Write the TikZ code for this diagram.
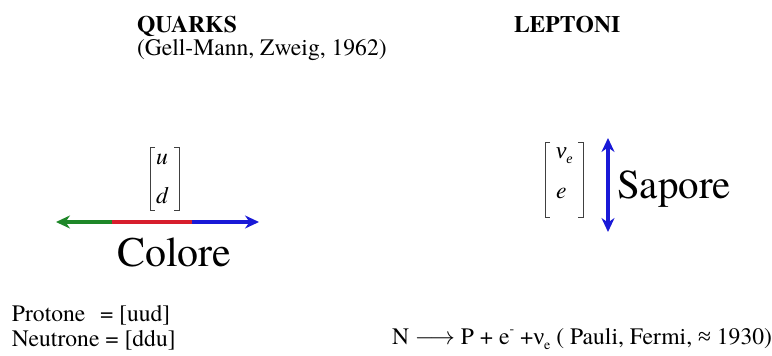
\documentclass[tikz,border=0pt]{standalone}
\usepackage{fontspec}
\IfFontExistsTF{texgyretermes-regular.otf}
  {\setmainfont{texgyretermes}[Extension=.otf,UprightFont=*-regular,BoldFont=*-bold,ItalicFont=*-italic,BoldItalicFont=*-bolditalic]}
  {\setmainfont{Liberation Serif}}
\newfontfamily\greekfont{Liberation Serif}
\usetikzlibrary{arrows.meta}
\definecolor{cgreen}{RGB}{30,135,40}
\definecolor{cred}{RGB}{215,30,45}
\definecolor{cblue}{RGB}{25,25,215}
\newcommand{\subtxt}[1]{\raisebox{-0.25em}{\fontsize{14}{14}\selectfont #1}}
\newcommand{\suptxt}[1]{\raisebox{0.45em}{\fontsize{14}{14}\selectfont #1}}
\begin{document}
\begin{tikzpicture}[x=1pt,y=-1pt,
  txt/.style={anchor=base west,inner sep=0pt,outer sep=0pt,font=\fontsize{23.6}{26}\selectfont},
  big/.style={anchor=base west,inner sep=0pt,outer sep=0pt,font=\fontsize{42}{46}\selectfont},
  brk/.style={draw=black!75,line width=1pt},
  thick arrow/.style={line width=4pt},
  tip/.style={-{Stealth[length=14pt,width=13pt]}}]
\path[use as bounding box,fill=white] (0,0) rectangle (772,356);
% titles
\node[txt,font=\fontsize{23.6}{26}\selectfont\bfseries] (quarks) at (137,32) {QUARKS};
\node[txt] (gell) at (137,56) {(Gell-Mann, Zweig, 1962)};
\node[txt,font=\fontsize{23.6}{26}\selectfont\bfseries] (leptoni) at (514,32) {LEPTONI};
% quark doublet
\node[txt,font=\fontsize{23.6}{26}\selectfont\itshape] (u) at (156,164) {u};
\node[txt,font=\fontsize{23.6}{26}\selectfont\itshape] (d) at (156,203) {d};
\draw[brk] (155,147) -- (150,147) -- (150,210) -- (155,210);
\draw[brk] (174,147) -- (179,147) -- (179,210) -- (174,210);
% colour arrow
\coordinate (cl) at (56,222);
\coordinate (cg) at (112,222);
\coordinate (cr) at (192,222);
\coordinate (cb) at (259,222);
\draw[thick arrow,cred] (cg) -- (cr);
\draw[thick arrow,cgreen,tip] (cg) -- (cl);
\draw[thick arrow,cblue,tip] (cr) -- (cb);
\node[big] (colore) at (117,266) {Colore};
% lepton doublet
\node[txt,font=\fontsize{23.6}{26}\selectfont\greekfont\itshape] (nu) at (556,158) {ν\subtxt{e}};
\node[txt,font=\fontsize{23.6}{26}\selectfont\itshape] (e) at (556,198) {e};
\draw[brk] (550,142) -- (545,142) -- (545,217) -- (550,217);
\draw[brk] (578,142) -- (583,142) -- (583,217) -- (578,217);
% flavour arrow
\coordinate (st) at (608,138);
\coordinate (sm) at (608,185);
\coordinate (sb) at (608,232);
\draw[thick arrow,cblue,tip] (sm) -- (st);
\draw[thick arrow,cblue,tip] (sm) -- (sb);
\node[big,font=\fontsize{41}{46}\selectfont] (sapore) at (617,198) {Sapore};
% bottom
\node[txt] (prot) at (12,321) {Protone};
\node[txt] (proteq) at (100,321) {= [uud]};
\node[txt] (neut) at (12,346) {Neutrone = [ddu]};
\node[txt] (decay) at (392,344) {N $\longrightarrow$ P + e\suptxt{-} +{\greekfont ν}\subtxt{e} ( Pauli, Fermi, {\greekfont ≈} 1930)};
\end{tikzpicture}
\end{document}
